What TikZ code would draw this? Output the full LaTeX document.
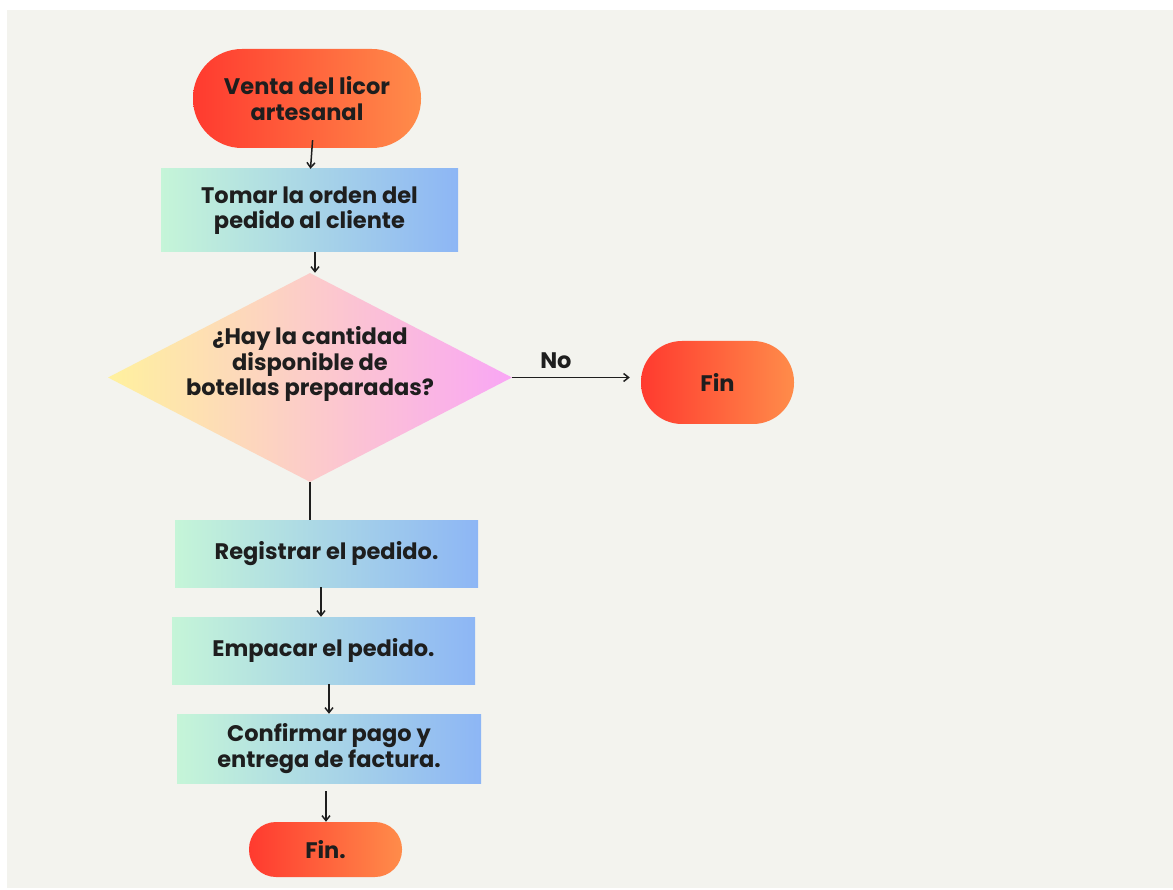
\documentclass[tikz,border=0pt]{standalone}
\usepackage{fontspec}
\setmainfont{Poppins}
\usetikzlibrary{shapes.geometric,arrows.meta}
\definecolor{bggray}{HTML}{F3F3EE}
\definecolor{termL}{HTML}{FF3A2F}
\definecolor{termR}{HTML}{FF8C4A}
\definecolor{procL}{HTML}{C5F5D8}
\definecolor{procR}{HTML}{8DB6F5}
\definecolor{decL}{HTML}{FFF19E}
\definecolor{decM}{HTML}{FFC8D0}
\definecolor{decR}{HTML}{F9A6F5}
\definecolor{ink}{HTML}{1E1E1E}
\tikzset{
  every node/.style={font=\fontsize{22.5}{25.5}\selectfont\bfseries, text=ink, align=center},
  term/.style={rectangle, rounded corners=#1, left color=termL, right color=termR, inner sep=0pt},
  proc/.style={rectangle, left color=procL, right color=procR, inner sep=0pt},
  dec/.style={diamond, aspect=1.933, minimum width=404pt, minimum height=209pt, inner sep=0pt,
    left color=decL, middle color=decM, right color=decR},
  flow/.style={draw=ink, line width=1.5pt, -{Straight Barb[length=5pt,width=8pt]}},
  plain/.style={draw=ink, line width=1.5pt},
}
\begin{document}
\begin{tikzpicture}[x=1pt,y=-1pt]
\useasboundingbox (0,0) rectangle (1173,890);
\fill[white] (0,0) rectangle (1173,890);
\fill[bggray] (7,10) rectangle (1173,888);

\node[term=49pt, minimum width=228pt, minimum height=99pt] (start) at (307,98.5) {Venta del licor\\artesanal};
\node[proc, minimum width=297pt, minimum height=83pt] (tomar) at (309.5,210.5) {Tomar la orden del\\pedido al cliente};
\node[dec] (dec) at (310,377.5) {};
\node (dectext) at (310,364) {¿Hay la cantidad\\disponible de\\botellas preparadas?};
\node[term=41pt, minimum width=153pt, minimum height=83pt] (fin1) at (717.5,382.5) {Fin};
\node[proc, minimum width=303pt, minimum height=67pt] (reg) at (326.5,553.5) {Registrar el pedido.};
\node[proc, minimum width=303pt, minimum height=67pt] (emp) at (323.5,650.5) {Empacar el pedido.};
\node[proc, minimum width=304pt, minimum height=69pt] (conf) at (329,748.5) {Confirmar pago y\\entrega de factura.};
\node[term=27pt, minimum width=153pt, minimum height=55pt] (fin2) at (325.5,849.5) {Fin.};

\draw[flow, shorten <=-8pt] ([xshift=5pt]start.south) -- ([xshift=1pt]tomar.north);
\draw[flow] ([xshift=5.5pt]tomar.south) -- ([xshift=5.5pt]tomar.south |- dec.north);
\draw[flow, shorten >=11pt] (dec.east) -- (dec.east -| fin1.west) node[pos=0.34, above=5pt] (no) {No};
\draw[plain] (dec.south) -- (dec.south |- reg.north);
\draw[flow] ([xshift=-5.5pt]reg.south) -- ([xshift=-5.5pt]reg.south |- emp.north);
\draw[flow] ([xshift=5.5pt]emp.south) -- ([xshift=5.5pt]emp.south |- conf.north);
\draw[flow, shorten <=8pt] ([xshift=-3pt]conf.south) -- ([xshift=-3pt]conf.south |- fin2.north);
\end{tikzpicture}
\end{document}
